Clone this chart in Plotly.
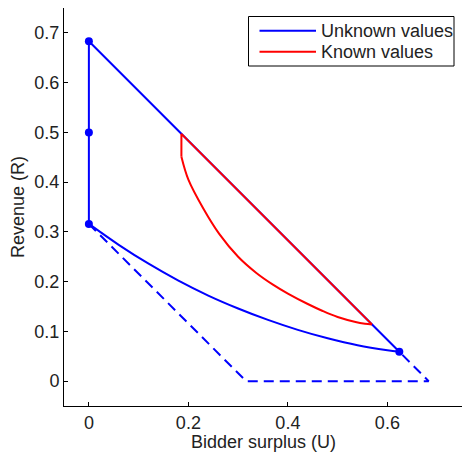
import plotly.graph_objects as go

# Blue (unknown values) outer boundary: vertices (lower-left, top, lower-right corner)
blue_edge_U = [0.0, 0.0, 0.624]
blue_edge_R = [0.316, 0.683, 0.059]

# Blue lower curve from (0, 0.316) to (0.624, 0.059)
blue_curve_U = [0.0, 0.06, 0.12, 0.18, 0.24, 0.30, 0.36, 0.42, 0.48, 0.54, 0.60, 0.624]
blue_curve_R = [0.316, 0.274, 0.236, 0.202, 0.172, 0.146, 0.123, 0.103, 0.086, 0.072, 0.062, 0.059]

# Blue dashed boundary
dash_U = [0.0, 0.316, 0.683, 0.624]
dash_R = [0.316, 0.0, 0.0, 0.059]

# Blue marker points
pts_U = [0.0, 0.0, 0.0, 0.624]
pts_R = [0.683, 0.5, 0.316, 0.059]

# Red (known values) straight edges: vertical then along the diagonal
red_edge_U = [0.186, 0.186, 0.569]
red_edge_R = [0.451, 0.497, 0.114]

# Red curved edge from (0.569, 0.114) back to (0.186, 0.451)
red_curve_U = [0.569, 0.555, 0.536, 0.50, 0.47, 0.44, 0.40, 0.37, 0.336, 0.30, 0.262, 0.23, 0.20, 0.186]
red_curve_R = [0.114, 0.1155, 0.119, 0.129, 0.141, 0.155, 0.176, 0.194, 0.218, 0.250, 0.296, 0.347, 0.405, 0.451]

x_ticks = [0, 0.2, 0.4, 0.6]
y_ticks = [0, 0.1, 0.2, 0.3, 0.4, 0.5, 0.6, 0.7]

legend_names = ["Unknown values", "Known values"]
x_title = "Bidder surplus (U)"
y_title = "Revenue (R)"

BLUE = "#0000ff"
RED = "#ff0000"
FONT = "Liberation Sans, Arial, sans-serif"
TXT = "#222222"
FS = 18

W, H = 462, 454
L, R_, T, B = 64, 0, 8, 48
PW = W - L - R_
PH = H - T - B


def px(xp):
    return (xp - L) / PW


def py(yp):
    return (H - B - yp) / PH


fig = go.Figure()

fig.add_trace(go.Scatter(x=dash_U, y=dash_R, mode="lines",
                         line=dict(color=BLUE, width=2, dash="10px,6px"),
                         showlegend=False, hoverinfo="skip"))

fig.add_trace(go.Scatter(x=blue_edge_U, y=blue_edge_R, mode="lines",
                         line=dict(color=BLUE, width=2),
                         name=legend_names[0], showlegend=False))
fig.add_trace(go.Scatter(x=blue_curve_U, y=blue_curve_R, mode="lines",
                         line=dict(color=BLUE, width=2, shape="spline", smoothing=1),
                         name=legend_names[0], showlegend=False))

fig.add_trace(go.Scatter(x=pts_U, y=pts_R, mode="markers",
                         marker=dict(color=BLUE, size=8),
                         showlegend=False))

fig.add_trace(go.Scatter(x=red_edge_U, y=red_edge_R, mode="lines",
                         line=dict(color=RED, width=2),
                         name=legend_names[1], showlegend=False))
fig.add_trace(go.Scatter(x=red_curve_U, y=red_curve_R, mode="lines",
                         line=dict(color=RED, width=2, shape="spline", smoothing=1),
                         name=legend_names[1], showlegend=False))

axis_common = dict(showgrid=False, zeroline=False, showline=True,
                   linecolor="black", linewidth=1, ticks="inside",
                   ticklen=4, tickcolor="black", mirror=False,
                   automargin=False,
                   tickfont=dict(family=FONT, size=FS, color=TXT))

fig.update_xaxes(range=[-0.05, 0.75], tickvals=x_ticks,
                 ticktext=[("%g" % v) for v in x_ticks], **axis_common)
fig.update_yaxes(range=[-0.05, 0.75], tickvals=y_ticks,
                 ticktext=[("%g" % v) for v in y_ticks], **axis_common)

# axis titles
fig.add_annotation(text=x_title, xref="paper", yref="paper",
                   x=px((L + W - R_) / 2), y=py(442), xanchor="center", yanchor="middle",
                   showarrow=False, font=dict(family=FONT, size=FS, color=TXT))
fig.add_annotation(text=y_title, xref="paper", yref="paper", textangle=-90,
                   x=px(18), y=py(207), xanchor="center", yanchor="middle",
                   showarrow=False, font=dict(family=FONT, size=FS, color=TXT))

# custom legend
fig.add_shape(type="rect", xref="paper", yref="paper",
              x0=px(248.5), x1=px(454), y0=py(16.5), y1=py(66),
              line=dict(color="black", width=1), fillcolor="white", layer="above")
for i, (nm, col) in enumerate(zip(legend_names, [BLUE, RED])):
    yy = 30.7 + 21 * i
    fig.add_shape(type="line", xref="paper", yref="paper",
                  x0=px(259.5), x1=px(316), y0=py(yy), y1=py(yy),
                  line=dict(color=col, width=2), layer="above")
    fig.add_annotation(text=nm, xref="paper", yref="paper",
                       x=px(319), y=py(yy), xanchor="left", yanchor="middle",
                       showarrow=False, font=dict(family=FONT, size=FS, color=TXT))

fig.update_layout(
    width=W, height=H,
    margin=dict(l=L, r=R_, t=T, b=B),
    plot_bgcolor="white", paper_bgcolor="white",
    font=dict(family=FONT, size=FS, color=TXT),
    showlegend=False,
)

fig.write_html("out.html", config={"displayModeBar": False},
               post_script="document.body.style.margin='0';document.body.style.overflow='hidden';")
